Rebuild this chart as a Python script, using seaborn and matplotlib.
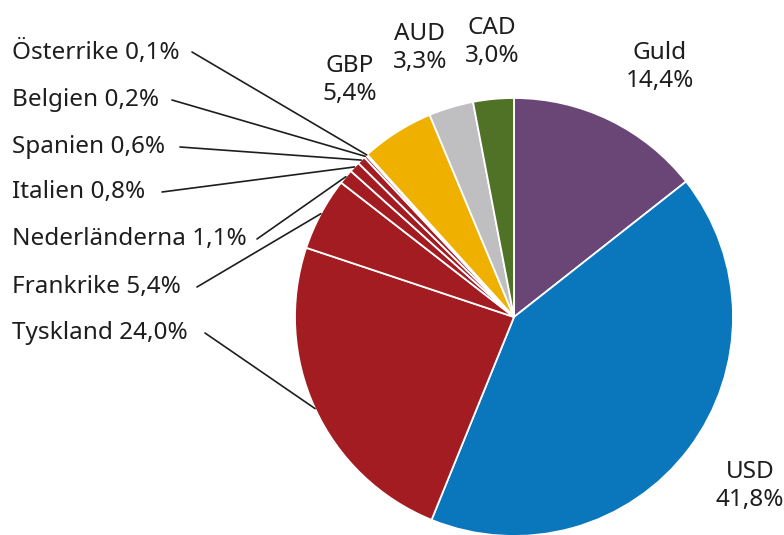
import numpy as np
import matplotlib.pyplot as plt
import seaborn as sns

# data
labels = ["Guld", "USD", "Tyskland", "Frankrike", "Nederländerna", "Italien",
          "Spanien", "Belgien", "Österrike", "GBP", "AUD", "CAD"]
shares = [14.4, 41.8, 24.0, 5.4, 1.1, 0.8, 0.6, 0.2, 0.1, 5.4, 3.3, 3.0]
share_text = ["14,4%", "41,8%", "24,0%", "5,4%", "1,1%", "0,8%",
              "0,6%", "0,2%", "0,1%", "5,4%", "3,3%", "3,0%"]
colors = ["#6a4677", "#0a76bc", "#a21c22", "#a21c22", "#a21c22", "#a21c22",
          "#a21c22", "#a21c22", "#a21c22", "#efb000", "#bfbfc1", "#4f7226"]

sns.set_theme(style="white")
plt.rcParams["font.family"] = ["Noto Sans", "DejaVu Sans"]

fig = plt.figure(figsize=(7.84, 5.35), dpi=100)
ax = fig.add_axes([0, 0, 1, 1])

cx, cy, r = 514, 218, 219
wedges, _ = ax.pie(shares, colors=colors, startangle=90, counterclock=False,
                   center=(cx, cy), radius=r, frame=True,
                   wedgeprops=dict(edgecolor="white", linewidth=1.3))
ax.set_xlim(0, 784)
ax.set_ylim(0, 535)
ax.set_aspect("equal")
ax.axis("off")

txt = "#1e1e1e"
fs = 17.5

# left labels with leader lines (label y in pixels from top, line start x)
left = {"Österrike": (52, 192), "Belgien": (100, 172), "Spanien": (147, 180),
        "Italien": (192, 162), "Nederländerna": (239, 257),
        "Frankrike": (287, 197), "Tyskland": (333, 205)}
for i, name in enumerate(labels):
    if name not in left:
        continue
    ypix, xs = left[name]
    ax.text(12, 535 - ypix, f"{name} {share_text[i]}", ha="left", va="center",
            fontsize=fs, color=txt)
    w = wedges[i]
    ang = np.deg2rad((w.theta1 + w.theta2) / 2)
    ex, ey = cx + r * np.cos(ang), cy + r * np.sin(ang)
    ax.plot([xs, ex], [535 - ypix, ey], color="#1e1e1e", lw=1.2)

# top / right labels
others = {"GBP": (350, 80), "AUD": (420, 48), "CAD": (492, 42),
          "Guld": (660, 67), "USD": (750, 486)}
for i, name in enumerate(labels):
    if name not in others:
        continue
    xp, yp = others[name]
    ax.text(xp, 535 - yp, f"{name}\n{share_text[i]}", ha="center", va="center",
            fontsize=fs, color=txt, linespacing=1.2)

fig.savefig("out.png", dpi=100)
